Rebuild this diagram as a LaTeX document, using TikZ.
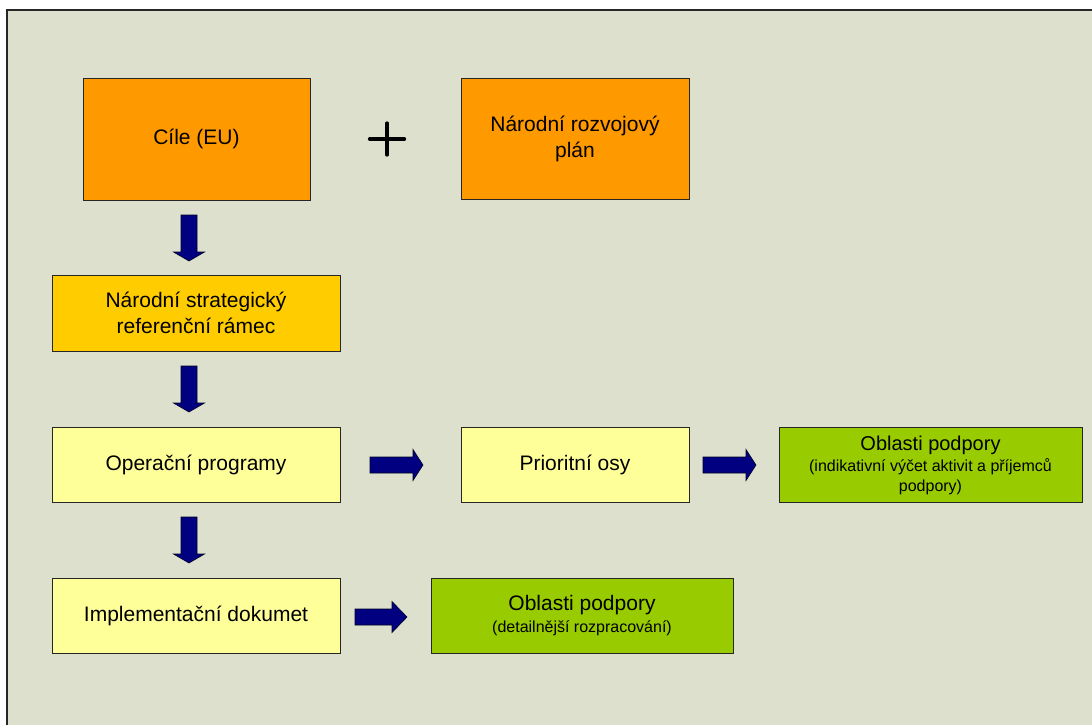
\documentclass[tikz,border=0pt]{standalone}
\usepackage{fontspec}
\setmainfont{Liberation Sans}
\definecolor{bgc}{RGB}{221,224,204}
\definecolor{orangebox}{RGB}{255,153,0}
\definecolor{goldbox}{RGB}{255,204,0}
\definecolor{yellowbox}{RGB}{255,255,153}
\definecolor{greenbox}{RGB}{153,204,0}
\definecolor{navyarr}{RGB}{0,0,128}
\tikzset{
  boxbase/.style={draw=black!85, line width=0.9pt, inner sep=0pt, align=center,
    font=\fontsize{21}{26}\selectfont, text=black},
  orangestep/.style={boxbase, fill=orangebox},
  goldstep/.style={boxbase, fill=goldbox},
  yellowstep/.style={boxbase, fill=yellowbox},
  greenstep/.style={boxbase, fill=greenbox, font=\fontsize{16}{20}\selectfont},
  blockarr/.style={fill=navyarr, draw=black!70!navyarr, line width=0.6pt, line join=miter},
  plussign/.style={draw=black, line width=3.2pt, line cap=round}
}
\newcommand\arrdown[3]{% center x, top y, tip y
  \filldraw[blockarr] (#1-8,#2) -- (#1+8,#2) -- (#1+8,#3-9) -- (#1+15.5,#3-9) -- (#1,#3)
    -- (#1-15.5,#3-9) -- (#1-8,#3-9) -- cycle;}
\newcommand\arrright[4]{% left x, center y, tip x, head length
  \filldraw[blockarr] (#1,#2-8) -- (#3-#4,#2-8) -- (#3-#4,#2-15.5) -- (#3,#2)
    -- (#3-#4,#2+15.5) -- (#3-#4,#2+8) -- (#1,#2+8) -- cycle;}
\begin{document}
\begin{tikzpicture}[x=1pt,y=-1pt]
\useasboundingbox (0,0) rectangle (1092,724);
\fill[white] (0,0) rectangle (1092,724);
\filldraw[fill=bgc, draw=black!85, line width=1.4pt] (7,10) rectangle (1100,740);

% boxes
\node[orangestep, minimum width=227pt, minimum height=122pt] (cile) at (196.5,139) {Cíle (EU)};
\node[orangestep, minimum width=228pt, minimum height=121pt] (nrp) at (575,138.5) {Národní rozvojový\\plán};
\node[goldstep, minimum width=288pt, minimum height=76pt] (nsrr) at (196,313) {Národní strategický\\referenční rámec};
\node[yellowstep, minimum width=288pt, minimum height=75pt] (op) at (196,464.5) {Operační programy};
\node[yellowstep, minimum width=228pt, minimum height=75pt] (po) at (575,464.5) {Prioritní osy};
\node[greenstep, minimum width=303pt, minimum height=75pt] (ob1) at (930.5,465)
  {{\fontsize{20}{20}\selectfont Oblasti podpory}\\[1pt](indikativní výčet aktivit a příjemců\\podpory)};
\node[yellowstep, minimum width=288pt, minimum height=75pt] (impl) at (196,615.5) {Implementační dokumet};
\node[greenstep, minimum width=302pt, minimum height=75pt] (ob2) at (582,616)
  {{\fontsize{21}{21}\selectfont Oblasti podpory}\\[2pt](detailnější rozpracování)};

% plus sign
\coordinate (plusc) at (387,139);
\draw[plussign] ([xshift=-17.5pt]plusc) -- ([xshift=17.5pt]plusc);
\draw[plussign] ([yshift=16pt]plusc) -- ([yshift=-16pt]plusc);

% block arrows
\arrdown{189}{215}{261}
\arrdown{189}{366}{412}
\arrdown{189}{517}{563}
\arrright{370}{465}{423}{10}
\arrright{703}{465}{756}{10}
\arrright{355}{617}{407}{15}
\end{tikzpicture}
\end{document}
